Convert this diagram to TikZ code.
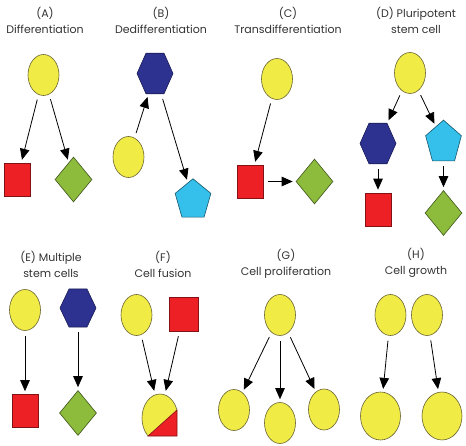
\documentclass[tikz,border=0pt]{standalone}
\usepackage{fontspec}
\setmainfont{Poppins}
\usepackage{tikz}
\usetikzlibrary{shapes.geometric}
\usetikzlibrary{arrows.meta}
\definecolor{cellyellow}{RGB}{241,235,70}
\definecolor{cellred}{RGB}{237,32,38}
\definecolor{cellgreen}{RGB}{141,187,60}
\definecolor{cellblue}{RGB}{45,50,145}
\definecolor{cellcyan}{RGB}{52,192,235}
\definecolor{rim}{RGB}{105,100,50}
\tikzset{
  cell/.style={ellipse,draw=rim,fill=cellyellow,line width=0.6pt,inner sep=0pt,
    minimum width=31pt,minimum height=41pt},
  bigcell/.style={cell,minimum width=40pt,minimum height=48pt},
  redcell/.style={rectangle,draw=cellred!55!black,fill=cellred,line width=0.6pt,
    inner sep=0pt,minimum width=26pt,minimum height=33pt},
  greencell/.style={diamond,draw=cellgreen!45!black,fill=cellgreen,line width=0.6pt,
    inner sep=0pt,minimum width=37pt,minimum height=45pt},
  hexcell/.style={regular polygon,regular polygon sides=6,draw=cellblue!60!black,
    fill=cellblue,line width=0.6pt,inner sep=0pt,minimum size=36pt,yscale=#1},
  pentcell/.style={regular polygon,regular polygon sides=5,draw=cellcyan!45!black,
    fill=cellcyan,line width=0.6pt,inner sep=0pt,minimum size=37.6pt,yscale=#1},
  title/.style={align=center,text=black!80,font=\fontsize{11}{16}\selectfont},
  arr/.style={-{Triangle[width=9.5pt,length=11pt]},line width=0.8pt,
    shorten <=5pt,shorten >=3pt}
}

\begin{document}
\begin{tikzpicture}[x=1pt,y=-1pt]
    \useasboundingbox (0,0) rectangle (466,446);
    % (A)
    \node[title] (tA) at (45,20) {(A)\\Differentiation};
    \node[cell] (aCell) at (43.5,75) {};
    \node[redcell] (aRed) at (17,179.5) {};
    \node[greencell] (aGreen) at (73.5,179.5) {};
    \draw[arr] (aCell) -- (aRed);
    \draw[arr] (aCell) -- (aGreen);
    % (B)
    \node[title] (tB) at (161,20) {(B)\\Dedifferentiation};
    \node[hexcell=1.3] (bHex) at (155,73.5) {};
    \node[cell] (bCell) at (128.5,157) {};
    \node[pentcell=1.13] (bPent) at (193,200) {};
    \draw[arr] (bCell) -- (bHex);
    \draw[arr] (bHex) -- (bPent);
    % (C)
    \node[title] (tC) at (288,20) {(C)\\Transdifferentiation};
    \node[cell] (cCell) at (277,79) {};
    \node[redcell] (cRed) at (250,181.5) {};
    \node[greencell] (cGreen) at (314.5,181.5) {};
    \draw[arr] (cCell) -- (cRed);
    \draw[arr] (cRed) -- (cGreen);
    % (D)
    \node[title] (tD) at (416,20) {(D) Pluripotent\\stem cell};
    \node[cell] (dCell) at (410,73) {};
    \node[hexcell=1.3] (dHex) at (378,143.5) {};
    \node[pentcell=1.2] (dPent) at (443.5,142.7) {};
    \node[redcell] (dRed) at (378,209.5) {};
    \node[greencell] (dGreen) at (443.5,213) {};
    \draw[arr] (dCell) -- (dHex);
    \draw[arr] (dCell) -- (dPent);
    \draw[arr] (dHex) -- (dRed);
    \draw[arr] (dPent) -- (dGreen);
    % (E)
    \node[title] (tE) at (51,264) {(E) Multiple\\stem cells};
    \node[cell] (eCell) at (25,310) {};
    \node[hexcell=1.22] (eHex) at (78,308) {};
    \node[redcell] (eRed) at (25,411) {};
    \node[greencell] (eGreen) at (78,413) {};
    \draw[arr] (eCell) -- (eRed);
    \draw[arr] (eHex) -- (eGreen);
    % (F)
    \node[title] (tF) at (163,264) {(F)\\Cell fusion};
    \node[cell] (fCell) at (136.5,315) {};
    \node[redcell,minimum width=29pt,minimum height=34pt] (fRed) at (183.5,314) {};
    \node[minimum width=35pt,minimum height=44pt,inner sep=0pt] (fFused) at (160,416) {};
    \begin{scope}
        \clip (148,436) -- (177,410) -- (177,380) -- (130,380) -- (130,436) -- cycle;
        \filldraw[draw=rim,fill=cellyellow,line width=0.6pt]
            (160,418) ellipse [x radius=18pt,y radius=24pt];
    \end{scope}
    \filldraw[draw=cellred!55!black,fill=cellred,line width=0.6pt]
        (148,436) -- (177,410) -- (177,436) -- cycle;
    \draw[arr] (fCell) -- (fFused);
    \draw[arr] (fRed) -- (fFused);
    % (G)
    \node[title] (tG) at (286,264) {(G)\\Cell proliferation};
    \node[cell] (gCell) at (280,315) {};
    \node[cell] (gLeft) at (234,410) {};
    \node[cell] (gMid) at (280,423) {};
    \node[cell] (gRight) at (324,409.5) {};
    \draw[arr] (gCell) -- (gLeft);
    \draw[arr] (gCell) -- (gMid);
    \draw[arr] (gCell) -- (gRight);
    % (H)
    \node[title] (tH) at (416,263) {(H)\\Cell growth};
    \node[cell] (hLeft) at (390.5,315) {};
    \node[cell] (hRight) at (427,315) {};
    \node[bigcell] (hBigLeft) at (380.5,416) {};
    \node[bigcell] (hBigRight) at (442,416) {};
    \draw[arr] (hLeft) -- (hBigLeft);
    \draw[arr] (hRight) -- (hBigRight);
\end{tikzpicture}
\end{document}
